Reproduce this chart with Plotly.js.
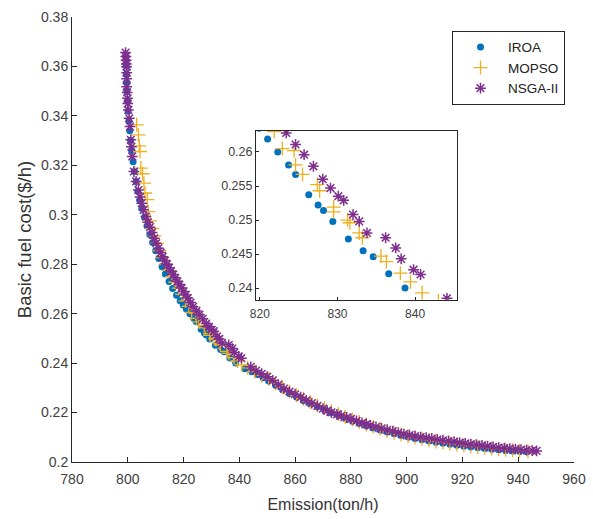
<!DOCTYPE html>
<html>
<head>
<meta charset="utf-8">
<script src="https://cdn.plot.ly/plotly-3.0.1.min.js"></script>
<style>html,body{margin:0;padding:0;background:#fff;}#chart{width:593px;height:519px;}</style>
</head>
<body>
<div id="chart"></div>
<script>
// IROA
const iroaX = [799.3,799.4,799.5,799.6,799.7,799.9,800.1,800.4,800.7,801.0,801.4,801.9,802.4,803.0,803.6,804.3,805.1,806.0,806.9,807.9,808.9,810.0,811.1,812.3,813.5,814.8,816.1,817.5,818.8,819.9,
  821.0,822.3,823.7,824.6,826.3,827.5,828.2,829.4,831.4,833.3,834.6,836.6,838.7,
  842.0,844.5,846.5,848.5,850.5,853.0,855.5,858.0,860.5,863.0,865.5,868.0,870.5,873.0,875.5,878.0,880.5,883.0,885.5,888.0,890.5,893.0,895.5,898.0,900.5,903.0,905.5,908.0,910.5,913.0,915.5,918.0,920.5,923.0,925.5,928.0,930.5,933.0,935.5,938.0,940.5,943.0];
const iroaY = [0.3640,0.3605,0.3570,0.3535,0.3500,0.3460,0.3420,0.3380,0.3340,0.3300,0.3260,0.3215,0.3175,0.3135,0.3095,0.3060,0.3025,0.2990,0.2955,0.2920,0.2888,0.2855,0.2823,0.2790,0.2760,0.2730,0.2702,0.2675,0.2652,0.2635,
  0.2619,0.2600,0.2581,0.2567,0.2537,0.2522,0.2514,0.2498,0.2472,0.2455,0.2446,0.2421,0.2400,
  0.2377,0.2365,0.2354,0.2341,0.2328,0.2310,0.2293,0.2277,0.2263,0.2249,0.2236,0.2223,0.2211,0.2199,0.2188,0.2177,0.2167,0.2157,0.2147,0.2138,0.2129,0.2121,0.2114,0.2107,0.2101,0.2095,0.2090,0.2085,0.2080,0.2076,0.2072,0.2068,0.2064,0.2061,0.2058,0.2055,0.2052,0.2050,0.2047,0.2045,0.2043,0.2041];

// MOPSO
const mopsoX = [803.2,803.8,804.1,804.4,804.7,805.3,805.8,806.2,807.0,807.3,808.0,808.8,809.6,810.5,811.4,812.4,813.5,814.6,815.8,817.0,818.2,819.5,820.7,
  821.85,822.9,824.4,824.6,825.5,827.4,827.7,829.5,829.5,831.3,831.6,832.8,833.2,835.6,836.3,838.1,839.4,840.9,
  843.0,845.5,848.0,850.5,853.0,855.5,858.0,860.5,863.0,865.5,868.0,870.5,873.0,875.5,878.0,880.5,883.0,885.5,888.0,890.5,893.0,895.5,898.0,900.5,903.0,905.5,908.0,910.5,913.0,915.5,918.0,920.5,923.0,925.5,928.0,930.5,933.0,935.5,938.0,940.5,943.5];
const mopsoY = [0.3364,0.3323,0.3279,0.3256,0.3189,0.3166,0.3128,0.3088,0.3061,0.3013,0.2975,0.2945,0.2915,0.2885,0.2855,0.2827,0.2800,0.2775,0.2750,0.2727,0.2703,0.2678,0.2652,
  0.2630,0.2605,0.2602,0.2581,0.2567,0.2552,0.2543,0.2519,0.2512,0.2500,0.2496,0.2481,0.2474,0.2447,0.2439,0.2422,0.2409,0.2393,
  0.2381,0.2366,0.2350,0.2336,0.2318,0.2301,0.2285,0.2270,0.2256,0.2242,0.2229,0.2217,0.2205,0.2193,0.2182,0.2172,0.2162,0.2152,0.2143,0.2134,0.2126,0.2118,0.2111,0.2105,0.2099,0.2094,0.2088,0.2083,0.2079,0.2075,0.2071,0.2067,0.2064,0.2061,0.2058,0.2055,0.2052,0.2050,0.2048,0.2046,0.2043];

// NSGA-II
const nsgaX = [799.2,799.3,799.4,799.5,799.6,799.6,799.6,799.6,799.8,799.9,800.0,800.2,800.5,800.8,801.1,801.3,801.6,802.2,803.0,803.8,804.4,805.0,805.7,806.5,807.2,808.0,808.7,809.5,810.2,811.0,811.8,812.5,813.3,814.0,814.8,815.5,816.3,817.0,817.8,818.5,819.3,820.0,820.8,821.5,822.5,
  823.4,824.6,825.7,826.9,828.1,829.1,830.1,830.8,832.0,832.8,833.8,836.2,837.5,838.2,839.8,840.7,844.1,
  846.0,848.0,850.0,852.0,854.0,856.0,858.0,860.0,862.0,864.0,866.0,868.0,870.0,871.5,873.0,875.0,876.5,878.5,880.0,882.0,884.0,885.5,887.0,889.0,891.0,893.0,895.0,897.0,899.0,901.0,903.0,905.0,907.0,909.0,911.0,913.0,915.0,917.0,919.0,921.0,923.0,925.0,927.0,929.0,931.0,933.0,935.0,937.0,939.0,941.0,943.0,945.0,946.6];
const nsgaY = [0.3656,0.3640,0.3625,0.3610,0.3599,0.3575,0.3550,0.3518,0.3495,0.3471,0.3450,0.3424,0.3390,0.3357,0.3303,0.3275,0.3236,0.3175,0.3135,0.3100,0.3072,0.3047,0.3020,0.2993,0.2970,0.2950,0.2928,0.2905,0.2885,0.2865,0.2847,0.2830,0.2815,0.2800,0.2786,0.2772,0.2758,0.2745,0.2731,0.2718,0.2704,0.2690,0.2676,0.2663,0.2645,
  0.2628,0.2611,0.2596,0.2579,0.2560,0.2547,0.2535,0.2529,0.2508,0.2498,0.2481,0.2474,0.2459,0.2443,0.2427,0.2420,0.2385,
  0.2370,0.2357,0.2345,0.2330,0.2313,0.2297,0.2285,0.2274,0.2262,0.2249,0.2238,0.2227,0.2216,0.2208,0.2201,0.2193,0.2187,0.2180,0.2174,0.2166,0.2158,0.2153,0.2148,0.2142,0.2136,0.2130,0.2125,0.2119,0.2113,0.2109,0.2105,0.2101,0.2098,0.2095,0.2091,0.2088,0.2085,0.2082,0.2078,0.2075,0.2072,0.2070,0.2067,0.2064,0.2061,0.2058,0.2056,0.2054,0.2052,0.2050,0.2048,0.2046,0.2045];

const names = ['IROA','MOPSO','NSGA-II'];
const xTicks = [780,800,820,840,860,880,900,920,940,960];
const yTicks = [0.2,0.22,0.24,0.26,0.28,0.3,0.32,0.34,0.36,0.38];
const insetXTicks = [820,830,840];
const insetYTicks = [0.24,0.245,0.25,0.255,0.26];

const C_BLUE = '#0072BD', C_ORANGE = '#EDB120', C_PURPLE = '#7E2F8E';
const mk = [
  {symbol:'circle', size:7, color:C_BLUE, line:{width:0}},
  {symbol:'cross-thin-open', size:10, color:C_ORANGE, line:{width:1.3, color:C_ORANGE}},
  {symbol:'asterisk-open', size:9, color:C_PURPLE, line:{width:1.5, color:C_PURPLE}}
];
const xs = [iroaX, mopsoX, nsgaX], ys = [iroaY, mopsoY, nsgaY];
const traces = [];
for (let i=0;i<3;i++){
  traces.push({x:xs[i], y:ys[i], type:'scatter', mode:'markers', name:names[i], marker:mk[i], xaxis:'x', yaxis:'y'});
}
for (let i=0;i<3;i++){
  traces.push({x:xs[i], y:ys[i], type:'scatter', mode:'markers', name:names[i], marker:mk[i], xaxis:'x2', yaxis:'y2', showlegend:false});
}
const axCol = '#262626';
const layout = {
  width:593, height:519,
  paper_bgcolor:'#fff', plot_bgcolor:'rgba(0,0,0,0)',
  margin:{l:72, r:19, t:17, b:56.5},
  font:{family:'Liberation Sans, Arial, sans-serif', color:'#404040', size:14},
  showlegend:true,
  legend:{x:0.757, y:0.969, xanchor:'left', yanchor:'top', bgcolor:'#fff', bordercolor:axCol, borderwidth:1, font:{size:13.5, color:'#222'}, tracegroupgap:0, itemwidth:45},
  xaxis:{domain:[0,1], range:[780,960], tickvals:xTicks, ticktext:xTicks.map(String), showline:true, linecolor:axCol, linewidth:1, ticks:'inside', ticklen:5, tickcolor:axCol, showgrid:false, zeroline:false, mirror:false, ticklabelstandoff:4,
    title:{text:'Emission(ton/h)', font:{size:16, color:'#333'}, standoff:13}, tickfont:{size:14, color:'#404040'}},
  yaxis:{domain:[0,1], range:[0.2,0.38], tickvals:yTicks, ticktext:yTicks.map(v=>String(v)), showline:true, linecolor:axCol, linewidth:1, ticks:'inside', ticklen:5, tickcolor:axCol, showgrid:false, zeroline:false, mirror:false,
    title:{text:'Basic fuel cost($/h)', font:{size:18.5, color:'#333'}, standoff:4}, tickfont:{size:14, color:'#404040'}},
  xaxis2:{domain:[0.3665,0.767], anchor:'y2', range:[819.5,845.4], tickvals:insetXTicks, ticktext:insetXTicks.map(String), showline:true, mirror:true, linecolor:axCol, linewidth:1, ticks:'inside', ticklen:3, tickcolor:axCol, showgrid:false, zeroline:false, ticklabelstandoff:3, tickfont:{size:12, color:'#404040'}},
  yaxis2:{domain:[0.3648,0.7441], anchor:'x2', range:[0.2383,0.2631], tickvals:insetYTicks, ticktext:insetYTicks.map(String), showline:true, mirror:true, linecolor:axCol, linewidth:1, ticks:'inside', ticklen:3, tickcolor:axCol, showgrid:false, zeroline:false, tickfont:{size:12.5, color:'#404040'}}
};
Plotly.newPlot('chart', traces, layout, {staticPlot:true, displayModeBar:false});
</script>
</body>
</html>
